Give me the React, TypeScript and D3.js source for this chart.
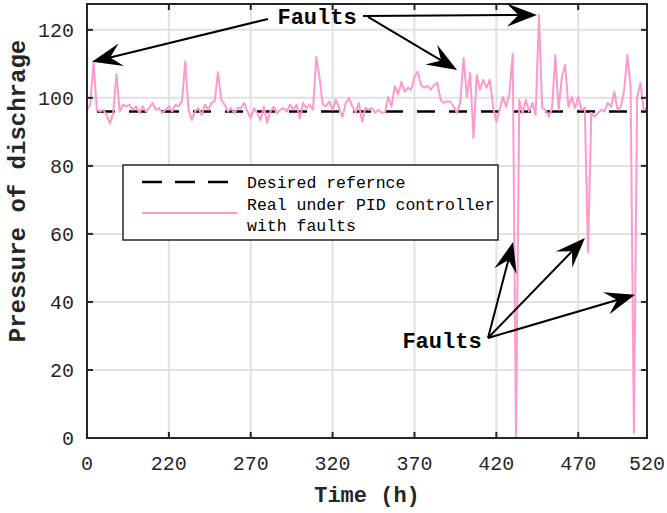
import React from "react";
import * as d3 from "d3";

const WIDTH = 667;
const HEIGHT = 513;
const MARGIN = { top: 4, right: 20, bottom: 75, left: 87 };
const FONT = "'Liberation Mono', 'Courier New', monospace";

const X_TICKS = [0, 50, 100, 150, 200, 250, 300, 342];
const X_TICK_LABELS = ["0", "220", "270", "320", "370", "420", "470", "520"];
const Y_TICKS = [0, 20, 40, 60, 80, 100, 120];
const X_MAX = 342;
const Y_MAX = 127.6;
const STEP = 2;
const REFERENCE = 96;

// pressure under PID controller with faults, one sample every STEP units
const pressure = [
  96.5, 98, 110.7, 96.5, 96, 96.5, 95, 92.5, 95.5, 107,
  96, 98, 97.5, 98, 96.5, 97.5, 95.5, 97.5, 96, 97,
  98.5, 96.5, 97, 95.5, 96.5, 97.5, 96, 98, 97.5, 99,
  110.7, 96.5, 93.5, 96, 97, 95, 98, 96.5, 98.5, 99,
  107.6, 99.5, 98, 96, 97, 95.5, 97, 97, 98.5, 96,
  94, 97, 95.5, 93.5, 97.5, 92.6, 96, 97.4, 95.5, 96.5,
  97, 96, 98, 96.5, 98, 94, 98.5, 97, 98, 96.5,
  112, 106, 98, 97.5, 99, 96.5, 99.5, 97, 94.4, 98.5,
  100, 97.5, 95.6, 98.5, 93, 97, 96.5, 97, 95.6, 96.5,
  95.6, 95.8, 100.3, 97.5, 103.5, 101, 104.7, 101.8, 103, 102.4,
  106.2, 107.7, 103.8, 103, 103.5, 102.4, 103.8, 104.4, 99.4, 98.5,
  99, 98.8, 97.4, 95.6, 99, 111.7, 100.3, 107.3, 88.2, 106.7,
  102.4, 105.3, 103, 105.3, 97.4, 93, 96.5, 100.3, 97.4, 101.4,
  113, 0, 99.4, 95.5, 99.4, 96, 98.5, 95, 124.4, 97,
  96.5, 94.5, 97, 112.6, 96.5, 106.2, 109.7, 97.4, 100.3, 97,
  100.3, 96.5, 97, 54.7, 95.6, 94.4, 95.5, 96.5, 96, 98.5,
  97.4, 101.8, 96.5, 97.5, 102, 112.6, 103, 1.5, 100.3, 104.4,
  96.5, 97,
];

const LEGEND_LABELS = ["Desired refernce", "Real under PID controller", "with faults"];

// annotation arrows, in data units: [fromX, fromY, tipX, tipY]
const TOP_TEXT = { x: 140.5, y: 121.8 };
const BOTTOM_TEXT = { x: 216.8, y: 26.5 };
const ARROWS = [
  [110.5, 123.2, 3.1, 110.6],
  [168.6, 124.1, 274.8, 124.4],
  [171.6, 123.8, 226, 108.2],
  [244.9, 29.4, 260.2, 57.6],
  [244.9, 29.4, 304.1, 58.8],
  [244.9, 29.4, 334.7, 42.1],
];

const COLOR_LINE = "#ff99cc";
const COLOR_AXIS = "#262626";
const COLOR_GRID = "#e1e1e1";

const Arrow = ({ x0, y0, x1, y1 }: { x0: number; y0: number; x1: number; y1: number }) => {
  const L = 30;
  const W = 11.5;
  const dx = x1 - x0;
  const dy = y1 - y0;
  const len = Math.hypot(dx, dy);
  const ux = dx / len;
  const uy = dy / len;
  const nx = -uy;
  const ny = ux;
  const bx = x1 - ux * L;
  const by = y1 - uy * L;
  const mx = x1 - ux * L * 0.62;
  const my = y1 - uy * L * 0.62;
  const pts = [
    [x1, y1],
    [bx + nx * W, by + ny * W],
    [mx, my],
    [bx - nx * W, by - ny * W],
  ];
  return (
    <g>
      <line x1={x0} y1={y0} x2={mx} y2={my} stroke="#000" strokeWidth={2} />
      <polygon points={pts.map((p) => p.join(",")).join(" ")} fill="#000" />
    </g>
  );
};

export default function App() {
  const boundsWidth = WIDTH - MARGIN.left - MARGIN.right;
  const boundsHeight = HEIGHT - MARGIN.top - MARGIN.bottom;

  const xScale = d3.scaleLinear().domain([0, X_MAX]).range([MARGIN.left, MARGIN.left + boundsWidth]);
  const yScale = d3.scaleLinear().domain([0, Y_MAX]).range([MARGIN.top + boundsHeight, MARGIN.top]);

  const linePath = d3
    .line<number>()
    .x((_, i) => xScale(i * STEP))
    .y((d) => yScale(d))(pressure);

  const x0 = MARGIN.left;
  const x1 = MARGIN.left + boundsWidth;
  const y0 = MARGIN.top + boundsHeight;
  const y1 = MARGIN.top;
  const TICK = 6;

  // legend box
  const LG = { x: 123, y: 165, w: 375, h: 75 };

  return (
    <svg
      width={WIDTH}
      height={HEIGHT}
      style={{ position: "absolute", left: 0, top: 0, background: "#fff" }}
      fontFamily={FONT}
    >
      <rect x={0} y={0} width={WIDTH} height={HEIGHT} fill="#fff" />
      {/* grid */}
      <g stroke={COLOR_GRID} strokeWidth={2}>
        {X_TICKS.slice(1, -1).map((t) => (
          <line key={`gx${t}`} x1={xScale(t)} x2={xScale(t)} y1={y1} y2={y0} />
        ))}
        {Y_TICKS.slice(1).map((t) => (
          <line key={`gy${t}`} x1={x0} x2={x1} y1={yScale(t)} y2={yScale(t)} />
        ))}
      </g>

      {/* reference */}
      <line
        x1={x0}
        x2={x1}
        y1={yScale(REFERENCE)}
        y2={yScale(REFERENCE)}
        stroke="#000"
        strokeWidth={2.6}
        strokeDasharray="18 14"
        strokeDashoffset={-10}
      />
      {/* real signal */}
      <path d={linePath ?? ""} fill="none" stroke={COLOR_LINE} strokeWidth={2} strokeLinejoin="round" />

      {/* axes box + ticks */}
      <g stroke={COLOR_AXIS} strokeWidth={2}>
        <rect x={x0} y={y1} width={boundsWidth} height={boundsHeight} fill="none" />
        {X_TICKS.slice(1, -1).map((t) => (
          <g key={`tx${t}`}>
            <line x1={xScale(t)} x2={xScale(t)} y1={y0} y2={y0 - TICK} />
            <line x1={xScale(t)} x2={xScale(t)} y1={y1} y2={y1 + TICK} />
          </g>
        ))}
        {Y_TICKS.slice(1).map((t) => (
          <g key={`ty${t}`}>
            <line x1={x0} x2={x0 + TICK} y1={yScale(t)} y2={yScale(t)} />
            <line x1={x1} x2={x1 - TICK} y1={yScale(t)} y2={yScale(t)} />
          </g>
        ))}
      </g>

      {/* tick labels */}
      <g fontSize={20} fill="#262626">
        {X_TICKS.map((t, i) => (
          <text key={`lx${t}`} x={xScale(t)} y={y0 + 32} textAnchor="middle">
            {X_TICK_LABELS[i]}
          </text>
        ))}
        {Y_TICKS.map((t) => (
          <text key={`ly${t}`} x={x0 - 13} y={yScale(t)} dy="0.35em" textAnchor="end">
            {t}
          </text>
        ))}
      </g>

      {/* axis labels */}
      <text x={(x0 + x1) / 2} y={502} textAnchor="middle" fontSize={22} fontWeight="bold" fill="#262626">
        Time (h)
      </text>
      <text
        transform={`translate(25,${(y0 + y1) / 2 - 30}) rotate(-90)`}
        textAnchor="middle"
        fontSize={24}
        fontWeight="bold"
        fill="#262626"
      >
        Pressure of dischrage
      </text>

      {/* legend */}
      <rect x={LG.x} y={LG.y} width={LG.w} height={LG.h} fill="#fff" stroke={COLOR_AXIS} strokeWidth={1.5} />
      <line x1={142} x2={228} y1={182} y2={182} stroke="#000" strokeWidth={2.6} strokeDasharray="20 13" />
      <line x1={142} x2={237} y1={213} y2={213} stroke={COLOR_LINE} strokeWidth={2} />
      <g fontSize={16.5} fill="#000">
        <text x={247} y={188}>{LEGEND_LABELS[0]}</text>
        <text x={247} y={210}>{LEGEND_LABELS[1]}</text>
        <text x={247} y={231}>{LEGEND_LABELS[2]}</text>
      </g>

      {/* annotations */}
      {ARROWS.map(([ax, ay, bx, by], i) => (
        <Arrow key={`a${i}`} x0={xScale(ax)} y0={yScale(ay)} x1={xScale(bx)} y1={yScale(by)} />
      ))}
      <text x={xScale(TOP_TEXT.x)} y={yScale(TOP_TEXT.y)} textAnchor="middle" fontSize={22} fontWeight="bold">
        Faults
      </text>
      <text x={xScale(BOTTOM_TEXT.x)} y={yScale(BOTTOM_TEXT.y)} textAnchor="middle" fontSize={22} fontWeight="bold">
        Faults
      </text>
    </svg>
  );
}
